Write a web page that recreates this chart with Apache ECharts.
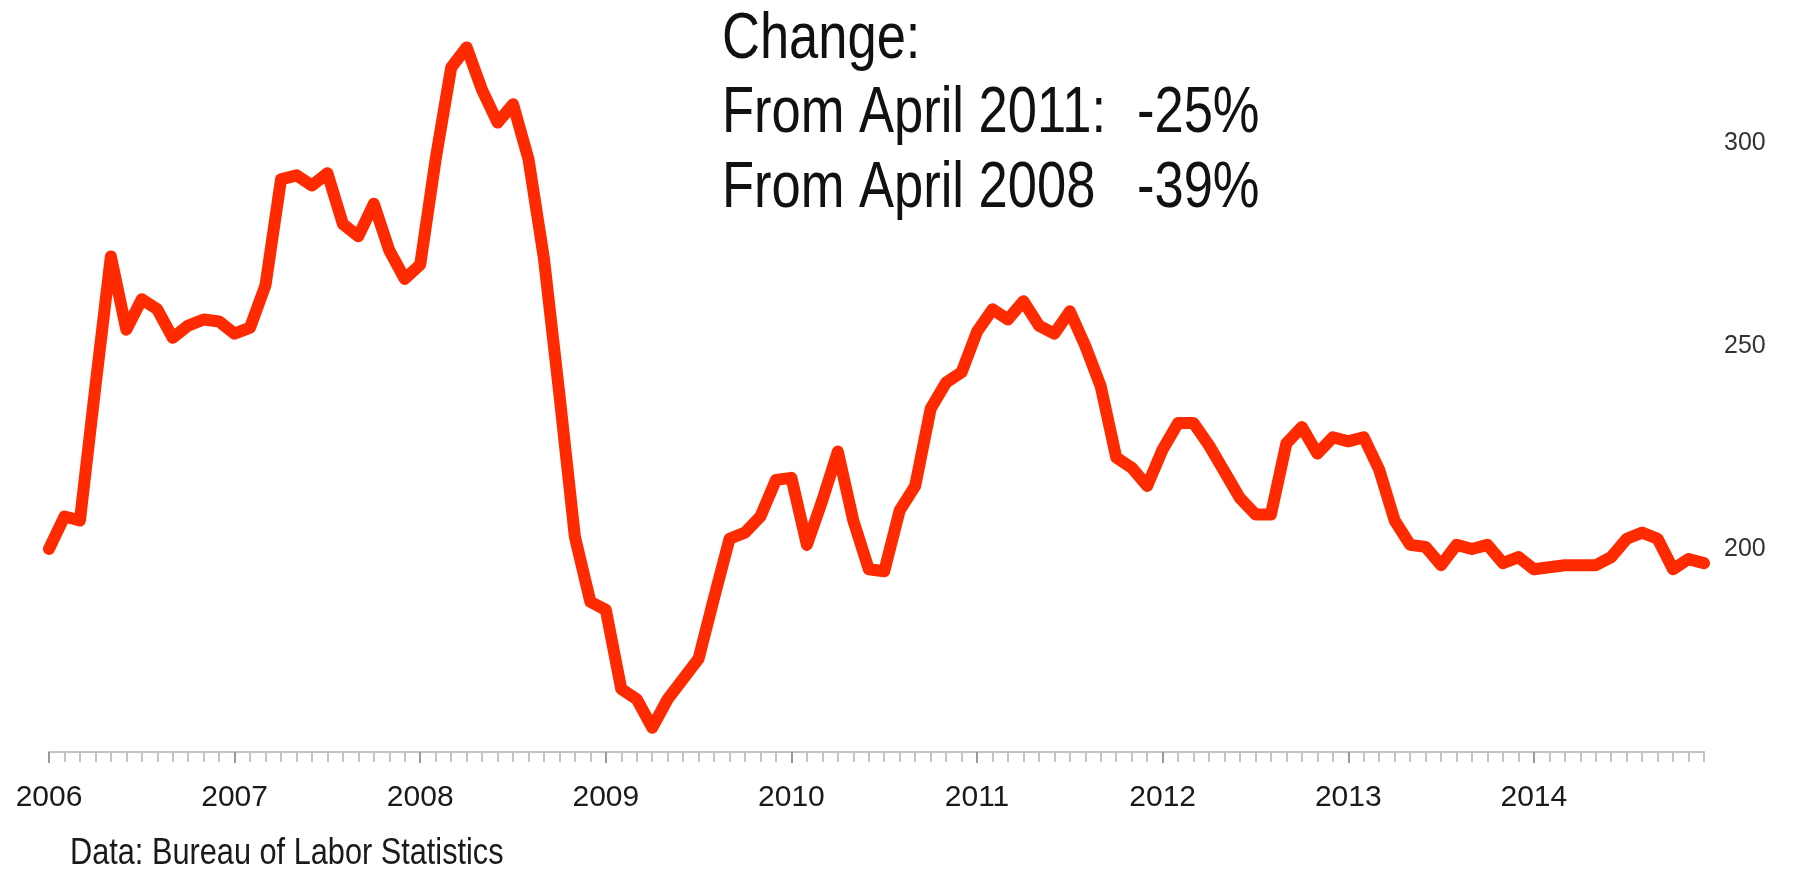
<!DOCTYPE html>
<html>
<head>
<meta charset="utf-8">
<script src="https://cdn.jsdelivr.net/npm/echarts@6/dist/echarts.min.js"></script>
<style>
html,body{margin:0;padding:0;background:#fff;}
#c{width:1795px;height:870px;}
</style>
</head>
<body>
<div id="c"></div>
<script>
var years = [2006, 2007, 2008, 2009, 2010, 2011, 2012, 2013, 2014];
var monthNames = ['01','02','03','04','05','06','07','08','09','10','11','12'];
var yTickLabels = [200, 250, 300];
var values = [
  200, 208, 207, 240, 272, 254, 261.5, 259, 252, 255, 256.5, 256,
  253, 254.5, 265, 291, 292, 289.5, 292.5, 280, 277, 285, 273.5, 266.5,
  270, 296, 318.5, 323.5, 313, 305, 309.5, 296, 271.5, 238, 203, 187,
  185, 165.5, 163, 156, 163, 168, 173, 188, 202.5, 204, 208, 217,
  217.5, 201, 212, 224, 207, 195, 194.5, 209.5, 215.5, 234.5, 241, 243.5,
  253.5, 259, 256.5, 261, 255, 253, 258.5, 250, 240, 222.5, 220, 215.5,
  224.5, 231, 231, 225.5, 219, 212.5, 208.5, 208.5, 226, 230, 223.5, 227.5,
  226.5, 227.5, 219.5, 207, 201, 200.5, 196, 201, 200, 201, 196.5, 198,
  195, 195.5, 196, 196, 196, 198, 202.5, 204, 202.5, 195, 197.5, 196.5
];
var noteLines = ['Change:', 'From April 2011:', 'From April 2008'];
var notePcts = ['-25%', '-39%'];
var sourceText = 'Data: Bureau of Labor Statistics';

var categories = [];
years.forEach(function (y) { monthNames.forEach(function (m) { categories.push(y + '-' + m); }); });

var FONT = "'Liberation Sans', Arial, sans-serif";
var SX = 0.82;

function note(text, x, y, size) {
  return {type: 'text', x: x, y: y, scaleX: SX, scaleY: 1,
    style: {text: text, fontSize: size, fontFamily: FONT, fill: '#111111', verticalAlign: 'middle', align: 'left'}};
}

var chart = echarts.init(document.getElementById('c'), null, {renderer: 'canvas'});
chart.setOption({
  animation: false,
  backgroundColor: '#ffffff',
  grid: {left: 49, right: 91, top: 21, bottom: 118, containLabel: false},
  xAxis: [{
    type: 'category',
    data: categories,
    boundaryGap: false,
    position: 'bottom',
    axisLine: {show: true, lineStyle: {color: '#c4c4c4', width: 2}},
    axisTick: {show: true, interval: 0, length: 10, lineStyle: {color: '#c4c4c4', width: 2}},
    axisLabel: {
      interval: function (i) { return i % 12 === 0; },
      formatter: function (v) { return v.slice(0, 4); },
      margin: 31, fontSize: 30, color: '#1a1a1a', fontFamily: FONT
    },
    splitLine: {show: false}
  }, {
    type: 'category',
    data: categories,
    boundaryGap: false,
    position: 'bottom',
    axisLine: {show: false},
    axisTick: {show: true, interval: function (i) { return i % 12 === 0; }, length: 11, lineStyle: {color: '#9a9a9a', width: 2}},
    axisLabel: {show: false},
    splitLine: {show: false}
  }],
  yAxis: {
    type: 'value',
    position: 'right',
    min: 150, max: 330, interval: 50,
    axisLine: {show: false},
    axisTick: {show: false},
    splitLine: {show: false},
    axisLabel: {
      margin: 20, fontSize: 25, color: '#333333', fontFamily: FONT,
      formatter: function (v) { return yTickLabels.indexOf(v) >= 0 ? String(v) : ''; }
    }
  },
  series: [{
    type: 'line',
    xAxisIndex: 0,
    data: values,
    showSymbol: false,
    symbol: 'none',
    smooth: false,
    lineStyle: {color: '#ff2a00', width: 12, join: 'round', cap: 'round'}
  }],
  graphic: [
    note(noteLines[0], 722, 40, 64),
    note(noteLines[1], 722, 114, 64),
    note(notePcts[0], 1137, 114, 64),
    note(noteLines[2], 722, 189, 64),
    note(notePcts[1], 1137, 189, 64),
    {type: 'text', x: 70, y: 854, scaleX: 0.83, scaleY: 1,
      style: {text: sourceText, fontSize: 37, fontFamily: FONT, fill: '#1a1a1a', verticalAlign: 'middle', align: 'left'}}
  ]
});
</script>
</body>
</html>
